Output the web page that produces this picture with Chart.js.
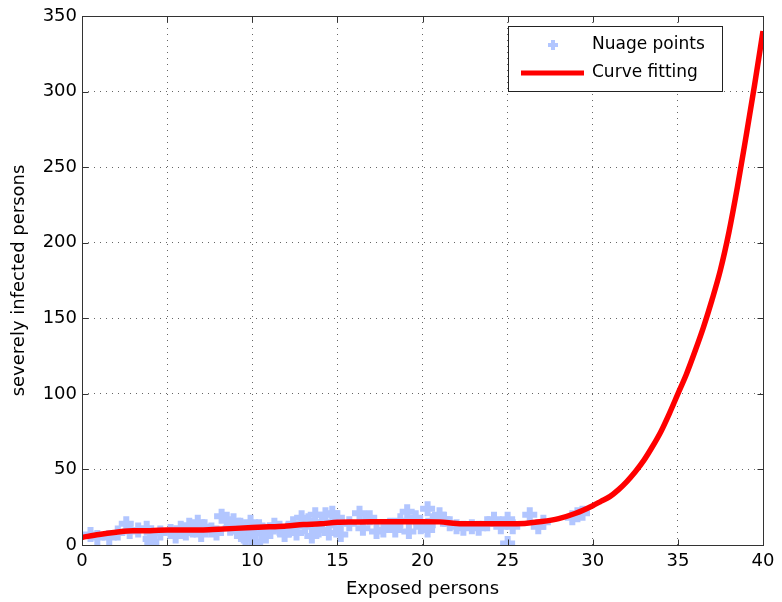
<!DOCTYPE html>
<html>
<head>
<meta charset="utf-8">
<script src="https://cdn.jsdelivr.net/npm/chart.js@4.4.1/dist/chart.umd.min.js"></script>
<style>
html,body{margin:0;padding:0;background:#fff;}
#wrap{width:782px;height:602px;}
</style>
</head>
<body>
<div id="wrap"><canvas id="c" width="782" height="602"></canvas></div>
<script>
const scatterX = [0.5,0.9,1.6,2.1,2.6,2.8,3.3,3.8,4.0,4.1,4.6,5.2,5.5,5.8,6.1,6.3,6.5,6.8,7.0,7.2,7.6,7.9,8.2,8.5,8.7,8.9,9.1,9.3,9.5,9.6,9.8,9.9,10.1,10.2,10.4,10.6,10.8,11.0,11.3,11.6,11.9,12.1,12.4,12.6,12.9,13.1,13.3,13.5,13.7,13.9,14.1,14.3,14.5,14.7,14.9,15.0,15.2,15.7,16.3,16.5,16.9,17.3,17.7,18.1,18.4,18.7,19.1,19.2,19.6,19.9,20.3,20.3,20.6,21.0,21.2,21.6,22.0,22.4,22.9,23.3,23.8,24.2,24.6,25.0,25.0,25.3,26.3,26.8,27.1,28.8,29.1,29.4];
const scatterY = [7,5,5,8,14,9,10,11,4,2,8,9,6,11,8,13,10,15,7,12,10,8,19,17,11,16,9,13,6,4,11,15,8,2,12,10,6,9,13,11,7,10,14,8,18,12,16,6,20,10,15,20,8,21,13,18,7,14,21,11,18,9,10,13,10,16,22,9,18,12,24,10,16,20,17,14,12,11,12,11,14,17,12,17,1,12,20,12,15,18,20,21];
const curveX = [0,1,2,3,4,5,6,7,8,9,10,11,12,13,14,15,16,17,18,19,20,21,22,23,24,25,26,27,28,29,30,30.5,31,31.5,32,32.5,33,33.5,34,34.5,35,35.5,36,36.5,37,37.5,38,38.5,39,39.5,40];
const curveY = [5,7,8.5,9.5,9.5,10,10,10,10.5,11,11.5,12,12.5,13.5,14,15,15.2,15.4,15.4,15.4,15.4,15.3,14.2,14,14,14,14.3,15.5,17.5,21,26,29,32,36.5,42,48.5,56,65,75,87,100,113,128,144,162,182,207,237,270,304,340];
const xTicks = [0,5,10,15,20,25,30,35,40];
const yTicks = [0,50,100,150,200,250,300,350];
const seriesNames = ['Nuage points','Curve fitting'];
const xTitle = 'Exposed persons';
const yTitle = 'severely infected persons';

const FONT = 'DejaVu Sans';
const markerColor = 'rgb(178,198,255)';

const boxPlugin = {
  id: 'boxPlugin',
  afterDraw(chart) {
    const ctx = chart.ctx;
    const a = chart.chartArea;
    const xs = chart.scales.x, ys = chart.scales.y;
    ctx.save();
    ctx.setLineDash([]);
    ctx.strokeStyle = '#333';
    ctx.lineWidth = 1;
    const L = Math.round(a.left) + 0.5, R = Math.round(a.right) + 0.5;
    const T = Math.round(a.top) + 0.5, B = Math.round(a.bottom) + 0.5;
    ctx.strokeRect(L, T, R - L, B - T);
    const tl = 6;
    ctx.beginPath();
    xTicks.forEach(v => {
      const px = Math.round(xs.getPixelForValue(v)) + 0.5;
      ctx.moveTo(px, B); ctx.lineTo(px, B - tl);
      ctx.moveTo(px, T); ctx.lineTo(px, T + tl);
    });
    yTicks.forEach(v => {
      const py = Math.round(ys.getPixelForValue(v)) + 0.5;
      ctx.moveTo(L, py); ctx.lineTo(L + tl, py);
      ctx.moveTo(R, py); ctx.lineTo(R - tl, py);
    });
    ctx.stroke();

    // legend
    const lx = 508.5, ly = 26.5, lw = 214, lh = 65;
    ctx.fillStyle = '#fff';
    ctx.fillRect(lx, ly, lw, lh);
    ctx.strokeStyle = '#222';
    ctx.strokeRect(lx, ly, lw, lh);
    ctx.strokeStyle = markerColor;
    ctx.lineWidth = 4;
    ctx.beginPath();
    ctx.moveTo(553 - 5, 45); ctx.lineTo(553 + 5, 45);
    ctx.moveTo(553, 45 - 5); ctx.lineTo(553, 45 + 5);
    ctx.stroke();
    ctx.strokeStyle = '#ff0000';
    ctx.lineWidth = 5;
    ctx.beginPath();
    ctx.moveTo(521, 73); ctx.lineTo(584, 73);
    ctx.stroke();
    ctx.fillStyle = '#000';
    ctx.font = '17px "' + FONT + '"';
    ctx.textBaseline = 'middle';
    ctx.textAlign = 'left';
    ctx.fillText(seriesNames[0], 592, 45);
    ctx.fillText(seriesNames[1], 592, 73);
    ctx.restore();
  }
};

new Chart(document.getElementById('c'), {
  type: 'scatter',
  data: {
    datasets: [
      {
        type: 'line',
        label: seriesNames[1],
        data: curveX.map((x, i) => ({x: x, y: curveY[i]})),
        borderColor: '#ff0000',
        borderWidth: 5.5,
        pointRadius: 0,
        fill: false,
        cubicInterpolationMode: 'monotone',
        order: 0
      },
      {
        label: seriesNames[0],
        data: scatterX.map((x, i) => ({x: x, y: scatterY[i]})),
        pointStyle: 'cross',
        pointRadius: 7.5,
        pointBorderWidth: 6,
        borderColor: markerColor,
        backgroundColor: markerColor,
        pointHoverRadius: 7.5,
        order: 1
      }
    ]
  },
  options: {
    responsive: false,
    animation: false,
    devicePixelRatio: 1,
    layout: { padding: { left: 0, top: 16, right: 19, bottom: 0 } },
    plugins: { legend: { display: false }, tooltip: { enabled: false } },
    scales: {
      x: {
        type: 'linear',
        min: 0, max: 40,
        afterFit(s) { s.height = 57; },
        afterBuildTicks(s) { s.ticks = xTicks.map(v => ({value: v})); },
        ticks: { color: '#000', font: { family: FONT, size: 18 }, padding: 6, maxRotation: 0 },
        grid: { color: '#666', drawTicks: false, lineWidth: 1 },
        border: { display: false, dash: [1, 5] },
        title: { display: true, text: xTitle, color: '#000', font: { family: FONT, size: 18 }, padding: { top: 0, bottom: 2 } }
      },
      y: {
        type: 'linear',
        min: 0, max: 350,
        afterFit(s) { s.width = 82; },
        afterBuildTicks(s) { s.ticks = yTicks.map(v => ({value: v})); },
        ticks: { color: '#000', font: { family: FONT, size: 18 }, padding: 5 },
        grid: { color: '#666', drawTicks: false, lineWidth: 1 },
        border: { display: false, dash: [1, 5] },
        title: { display: true, text: yTitle, color: '#000', font: { family: FONT, size: 18 }, padding: { top: 9, bottom: 0 } }
      }
    }
  },
  plugins: [boxPlugin]
});
</script>
</body>
</html>
